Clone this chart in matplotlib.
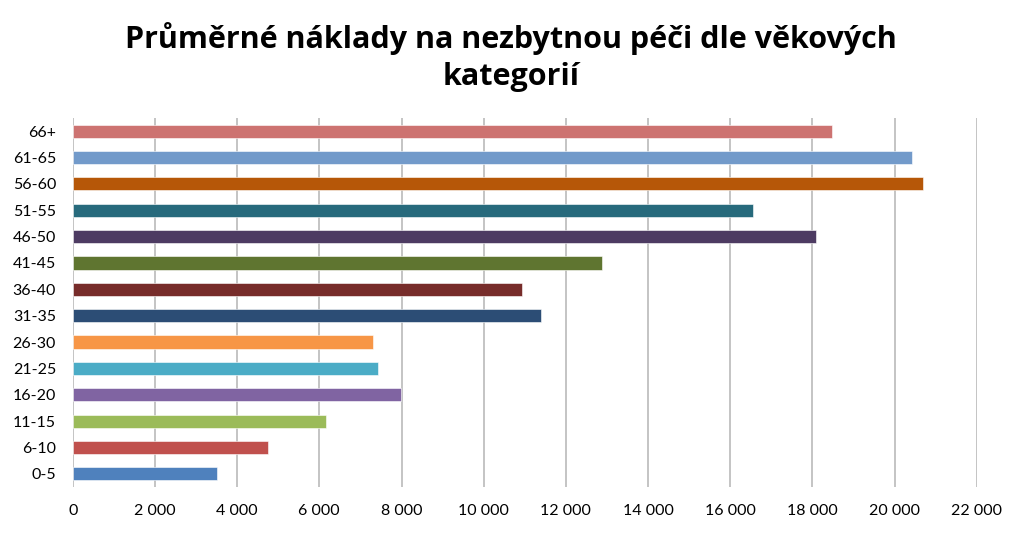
import matplotlib
matplotlib.use("Agg")
import matplotlib.pyplot as plt
from matplotlib.ticker import FuncFormatter

categories = ["0-5", "6-10", "11-15", "16-20", "21-25", "26-30", "31-35",
              "36-40", "41-45", "46-50", "51-55", "56-60", "61-65", "66+"]
values = [3510, 4750, 6160, 7980, 7440, 7310, 11390,
          10940, 12890, 18090, 16550, 20690, 20410, 18480]
colors = ["#4F81BD", "#C0504D", "#9BBB59", "#8064A2", "#4BACC6", "#F79646", "#2C4D75",
          "#772C2A", "#5F7530", "#4D3B62", "#276A7C", "#B65708", "#729ACA", "#CD7371"]
title = "Průměrné náklady na nezbytnou péči dle věkových\nkategorií"
xticks = list(range(0, 22001, 2000))

plt.rcParams['font.family'] = ['Lato', 'DejaVu Sans']

fig = plt.figure(figsize=(10.24, 5.34), dpi=100)
ax = fig.add_axes([0.071, 0.088, 0.883, 0.691])

ax.barh(range(len(categories)), values, height=0.5, color=colors,
        edgecolor="white", linewidth=0.4, zorder=3)
ax.set_yticks(range(len(categories)))
ax.set_yticklabels(categories, fontsize=11.5)
ax.set_ylim(-0.5, len(categories) - 0.5)
ax.set_xlim(0, 22000)
ax.set_xticks(xticks)
ax.xaxis.set_major_formatter(FuncFormatter(lambda v, p: f"{int(v):,}".replace(",", " ")))
ax.tick_params(axis='x', labelsize=11.5, length=0, pad=12)
ax.tick_params(axis='y', length=0, pad=12)
ax.grid(axis='x', color="#BFBFBF", linewidth=1.3, zorder=0)
for s in ax.spines.values():
    s.set_visible(False)

fig.text(0.499, 0.893, title, ha='center', va='center', fontsize=22,
         fontweight='bold', linespacing=1.3, family=['Open Sans', 'DejaVu Sans'])

fig.savefig("out.png", dpi=100, facecolor="white")
